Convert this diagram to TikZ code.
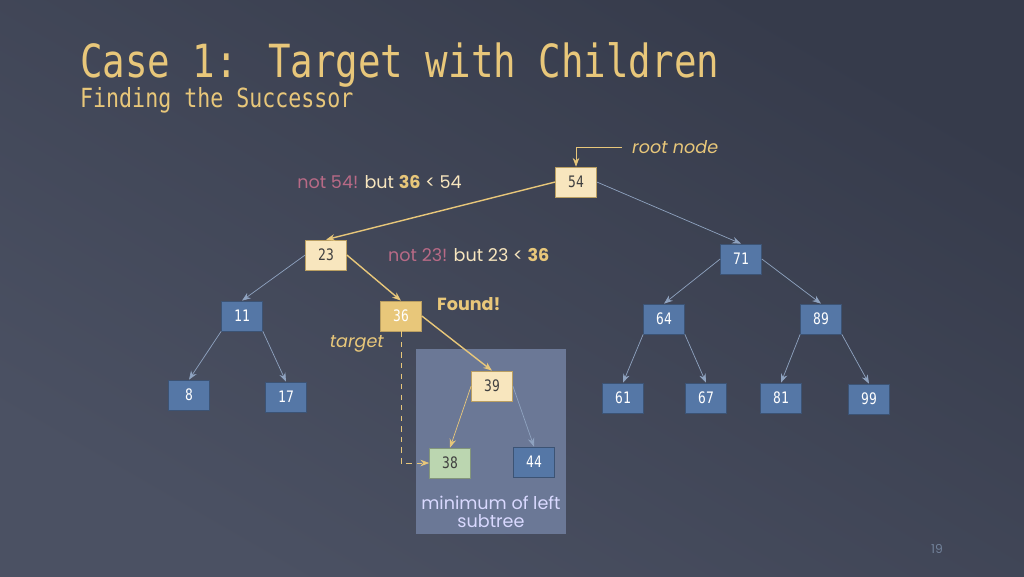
\documentclass[tikz,border=0pt]{standalone}
\usepackage{fontspec}
\setmainfont{Poppins}
\newfontfamily\monofont{DejaVu Sans Mono}
\newfontfamily\titlefont[FakeStretch=0.82]{DejaVu Sans Mono}
\usetikzlibrary{arrows.meta}
\definecolor{bgA}{HTML}{363B4B}
\definecolor{bgB}{HTML}{4B5163}
\definecolor{gold}{HTML}{E8C77A}
\definecolor{pale}{HTML}{F8E6BE}
\definecolor{blu}{HTML}{5577A6}
\definecolor{edgeblue}{HTML}{8FA3C0}
\definecolor{pink}{HTML}{B86A86}
\definecolor{grn}{HTML}{BBD6B0}
\definecolor{panel}{HTML}{6B7896}
\tikzset{
  key/.style={draw=blu!70!black, fill=blu, text=white, minimum width=0.82cm, minimum height=0.6cm, inner sep=0pt, font=\titlefont\small},
  path/.style={key, draw=gold!80!black, fill=pale, text=black!75},
  found/.style={key, draw=gold!80!black, fill=gold, text=white},
  mini/.style={key, draw=grn!70!black, fill=grn, text=black!75},
  bluedge/.style={draw=edgeblue, -{Stealth[length=5pt]}},
  goldedge/.style={draw=gold, thick, -{Stealth[length=5pt]}},
  lbl/.style={font=\fontsize{10}{12}\selectfont}
}
\begin{document}
\begin{tikzpicture}[x=0.02cm, y=-0.02cm]
  \shade[top color=bgA, bottom color=bgB, shading angle=-30] (0,0) rectangle (1024,576);
  \useasboundingbox (0,0) rectangle (1024,576);
  \fill[panel] (416,349) rectangle (566,534);

  \node[anchor=west, text=gold, font=\titlefont\fontsize{26}{28}\selectfont] (title) at (74,65) {Case 1: Target with Children};
  \node[anchor=west, text=gold, font=\titlefont\fontsize{15}{17}\selectfont] (subtitle) at (74,100) {Finding the Successor};

  \node[path] (n54) at (576,182) {54};
  \node[path] (n23) at (326,255) {23};
  \node[key] (n71) at (741,259) {71};
  \node[key] (n11) at (242,316) {11};
  \node[found] (n36) at (401,316) {36};
  \node[key] (n64) at (664,319) {64};
  \node[key] (n89) at (821,319) {89};
  \node[key] (n8) at (189,395) {8};
  \node[key] (n17) at (286,397) {17};
  \node[path] (n39) at (492,386) {39};
  \node[key] (n61) at (623,398) {61};
  \node[key] (n67) at (706,398) {67};
  \node[key] (n81) at (781,398) {81};
  \node[key] (n99) at (869,399) {99};
  \node[mini] (n38) at (450,463) {38};
  \node[key] (n44) at (534,462) {44};

  % tree edges
  \draw[goldedge] (n54.west) -- (n23.north);
  \draw[bluedge] (n54.east) -- (n71.north);
  \draw[bluedge] (n23.west) -- (n11.north);
  \draw[goldedge] (n23.east) -- (n36.north);
  \draw[bluedge] (n71.west) -- (n64.north);
  \draw[bluedge] (n71.east) -- (n89.north);
  \draw[bluedge] (n11.south west) -- (n8.north);
  \draw[bluedge] (n11.south east) -- (n17.north);
  \draw[goldedge] (n36.east) -- (n39.north);
  \draw[bluedge] (n64.south west) -- (n61.north);
  \draw[bluedge] (n64.south east) -- (n67.north);
  \draw[bluedge] (n89.south west) -- (n81.north);
  \draw[bluedge] (n89.south east) -- (n99.north);
  \draw[goldedge, thin] (n39.west) -- (n38.north);
  \draw[bluedge] (n39.east) -- (n44.north);
  \draw[goldedge, thin, dashed] (n36.south) |- (n38.west);

  % labels
  \coordinate (rootstart) at (622,147);
  \draw[goldedge, thin] (rootstart) -| (n54.north);
  \node[lbl, anchor=west, text=gold, font=\itshape] (rootlbl) at (626,147) {root node};
  \node[lbl, anchor=east] (lbl54) at (468,182) {\textcolor{pink}{not 54!} \textcolor{pale}{but \textbf{\textcolor{gold}{36}} < 54}};
  \node[lbl, anchor=west] (lbl23) at (382,255) {\textcolor{pink}{not 23!} \textcolor{pale}{but 23 < \textbf{\textcolor{gold}{36}}}};
  \node[lbl, anchor=west, text=gold, font=\bfseries] (foundlbl) at (431,304) {Found!};
  \node[lbl, anchor=east, text=gold, font=\itshape] (targetlbl) at (390,344) {target};
  \node[lbl, text=white!85!blue, align=center] (minlbl) at (491,512) {minimum of left\\[-2pt]subtree};
  \node[text=edgeblue!80!black, font=\scriptsize] (page) at (937,549) {19};
\end{tikzpicture}
\end{document}
